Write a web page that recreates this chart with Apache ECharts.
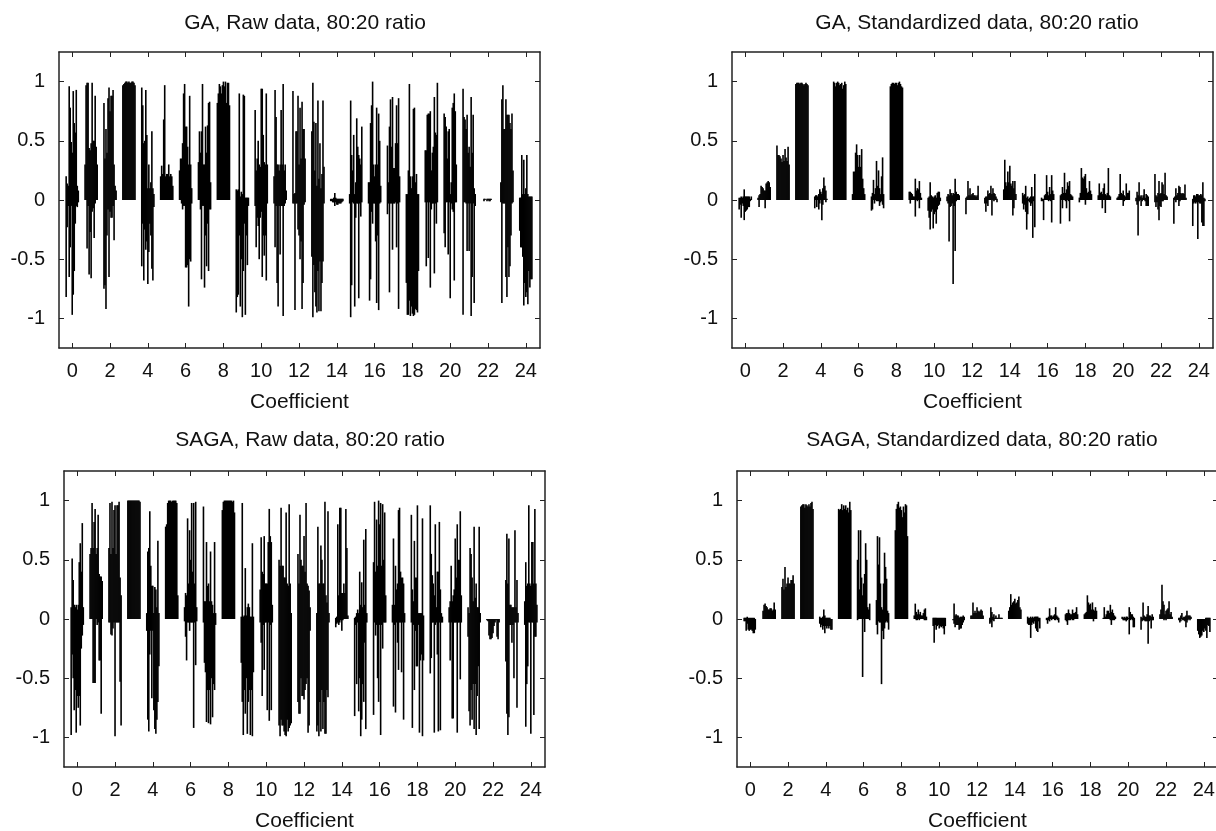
<!DOCTYPE html>
<html><head><meta charset="utf-8">
<style>html,body{margin:0;padding:0;background:#fff;overflow:hidden}#c{width:1216px;height:831px}</style>
<script src="https://cdn.jsdelivr.net/npm/echarts@6/dist/echarts.min.js"></script>
</head><body><div id="c"></div>
<script>
// One row per coefficient (0..24); each row holds 13 impulse tips across the coefficient's run group.
const xTicks=[0,2,4,6,8,10,12,14,16,18,20,22,24];
const yTicks=[-1,-0.5,0,0.5,1];
const gaRawPos=[
[20,14,12,96,78,49,40,92,65,57,93,12,8],[30,97,99,99,44,42,48,99,50,50,88,45,30],[82,35,60,40,86,95,75,88,88,93,30,12,8],
[97,98,99,100,100,99,100,99,99,100,100,99,97],[95,80,48,50,93,55,10,30,10,15,58,10,5],[20,29,22,68,97,20,22,22,30,20,22,20,12],
[25,35,35,48,90,98,62,62,45,30,88,30,10],[32,58,40,58,98,30,30,62,40,63,82,83,15],[82,90,98,96,90,97,100,96,100,82,99,99,80],
[9,8,9,90,3,7,5,89,88,2,2,2,2],[76,25,35,50,30,28,94,94,55,32,30,90,30],[20,93,70,30,30,25,30,76,30,98,25,30,8],
[92,5,6,58,58,88,30,78,35,83,60,60,35],[58,99,66,25,65,12,84,18,48,10,22,84,28],[1,1,1,2,6,2,1,1,1,1,1,1,1],
[5,84,38,25,55,5,15,69,45,38,35,30,62],[15,15,65,80,100,30,20,30,78,30,73,50,12],[46,15,62,85,45,87,27,27,48,80,48,86,20],
[5,5,25,98,20,10,20,77,78,15,22,5,5],[42,42,72,73,73,75,25,40,45,87,57,55,99],[73,70,62,35,58,60,5,15,78,82,90,75,30],
[94,70,68,60,72,40,45,28,87,40,72,10,5],[0,0,1,1,0,1,1,1,1,1,0,0,0],[15,85,97,60,60,85,72,72,72,65,60,73,25],[2,2,38,5,34,5,10,38,5,3,3,3,3]];
const gaRawNeg=[
[-82,-23,-5,-65,-40,-5,-97,-80,-60,-20,-5,-6,-2],[0,0,-41,-5,-63,-27,-66,-10,-7,-32,-3,0,0],[-75,-72,-92,-30,-8,-65,-10,-15,-15,-5,-34,0,0],
[],[-56,-20,-68,-25,-42,-35,-71,-44,-20,-30,-58,-68,-6],[],
[0,0,-3,-8,-5,-5,-57,-57,-55,-90,-50,-52,-3],[0,0,-8,-67,-5,-5,-74,-30,-56,-20,-60,-8,-8],[],
[-95,-82,-80,-30,-90,-50,-99,-60,-20,-97,-30,-55,-5],[-5,-40,-15,-22,-50,-15,-10,-65,-30,-47,-30,-68,-3],[-3,-40,-5,-70,-90,-5,-46,-5,-5,-98,-5,-3,0],
[-3,-3,-93,-3,-3,-25,-30,-50,-35,-92,-70,-4,-2],[-48,-99,-55,-78,-90,-95,-60,-94,-52,-94,-70,-52,-3],[-1,-1,-2,-2,-5,-2,-4,-4,-3,-3,-3,-2,-1],
[-3,-99,-72,-2,-3,-90,-15,-3,-3,-83,-3,-14,-2],[-3,-85,-67,-10,-20,-3,-3,-35,-87,-30,-93,-3,-2],[-12,-3,-78,-3,-3,-42,-3,-3,-2,-40,-3,-92,-2],
[-70,-97,-97,-85,-98,-90,-96,-98,-97,-92,-93,-95,-60],[-2,-56,-2,-49,-2,-74,-8,-3,-3,-62,-3,-20,-2],[-28,-40,-2,-2,-46,-2,-83,-3,-8,-10,-68,-2,-2],
[-97,-2,-2,-3,-43,-3,-43,-3,-98,-65,-3,-87,-5],[0,0,-1,0,0,-1,0,-1,-1,0,0,0,0],[-2,-87,-3,-3,-3,-65,-82,-40,-65,-56,-30,-3,-2],[-26,-40,-40,-48,-89,-70,-82,-78,-88,-60,-74,-67,-67]];
const gaStdPos=[
[2,2,3,2,3,9,3,3,3,3,3,1,3],[2,4,5,12,11,10,8,8,14,15,16,15,11],[46,38,38,37,35,32,38,33,43,36,33,45,30],
[98,99,99,99,98,99,99,98,97,98,99,98,97],[3,4,4,3,5,9,7,5,10,19,12,8,1],[100,99,96,99,100,99,97,98,99,94,97,100,98],
[5,24,24,40,47,38,28,38,28,43,18,10,5],[3,6,17,5,10,33,12,25,10,5,20,36,5],[96,98,99,99,98,99,99,97,99,100,98,96,95],
[7,7,6,5,3,3,18,8,10,9,16,6,2],[2,3,15,4,3,2,3,4,2,6,7,7,2],[3,5,4,9,6,4,6,5,18,7,5,5,4],
[2,3,16,4,10,4,5,6,4,4,3,4,12],[2,3,3,8,5,6,12,5,10,6,5,3,1],[9,34,15,12,24,15,29,14,12,16,10,16,5],
[6,4,5,12,2,3,1,2,3,11,3,3,22],[2,1,1,4,5,21,7,4,11,5,21,8,5],[4,5,11,6,23,6,9,15,12,16,5,4,3],
[2,6,27,19,18,20,22,10,6,7,16,8,5],[4,14,6,7,5,10,14,5,4,6,27,4,3],[2,3,5,22,6,5,8,4,3,14,6,6,8],
[2,7,4,15,3,4,2,4,9,2,5,4,3],[22,4,3,6,16,5,6,15,13,5,23,4,3],[2,3,10,4,6,12,11,6,5,6,5,13,2],[1,4,4,3,5,5,4,4,5,4,15,2,1]];
const gaStdNeg=[
[-8,-4,-15,-3,-5,-17,-10,-9,-8,-6,-6,-1,0],[0,-6,0,0,0,0,0,-7,0,0,0,0,0],[],
[],[-7,0,-6,0,-8,-3,0,-17,-4,0,0,-2,0],[],
[],[-9,-8,0,-3,0,-1,-1,-1,-5,-2,-1,-4,-7],[],
[0,-3,0,0,0,0,-14,0,-1,0,-7,0,0],[-9,-15,-25,-10,-8,-24,-12,-10,-20,-8,-5,-4,-1],[-1,-3,-35,-6,-5,-3,-71,-5,-43,-1,0,0,0],
[-12,0,0,0,0,0,0,0,0,0,0,0,0],[-3,-10,-3,-5,0,0,0,-13,0,-1,0,0,-2],[0,0,0,0,0,0,0,0,0,-13,-7,0,0],
[-3,-8,-4,-10,-25,-12,-1,-2,-5,-3,-32,-1,-23],[-1,-1,-17,0,0,0,0,-1,0,-1,-19,0,0],[-20,0,-7,0,0,-1,-7,0,-1,-18,0,0,0],
[-2,0,0,0,0,0,-4,0,0,0,0,0,0],[0,0,0,0,-7,0,0,-11,0,0,0,0,0],[0,0,0,0,0,0,-5,-1,0,0,0,0,0],
[-1,-4,-30,-1,0,-5,-1,0,0,-1,-5,-5,-5],[-2,-6,-2,-8,-17,-5,-6,-1,-1,0,0,0,0],[-20,0,-2,0,0,-5,-1,0,0,0,0,0,0],[-22,-3,-2,-3,-2,-33,-2,-3,-3,-19,-22,-22,-1]];
const sagaRawPos=[
[10,51,33,12,10,12,8,12,48,64,40,81,10],[55,60,98,60,82,93,55,60,88,38,36,36,32],[60,98,55,99,60,92,96,55,96,96,99,35,20],
[100,100,100,100,100,100,100,100,100,100,100,100,99],[5,57,60,91,45,28,28,5,27,25,10,66,5],[78,80,98,100,100,100,99,100,100,100,100,98,20],
[10,22,20,85,30,75,50,98,40,98,30,99,10],[95,15,15,65,28,30,15,57,15,12,5,65,5],[92,99,100,100,100,100,100,100,100,100,99,100,90],
[2,98,2,3,43,3,10,13,10,2,2,64,2],[25,69,40,38,70,30,30,30,65,93,70,65,12],[50,45,94,45,45,35,35,90,30,28,97,30,5],
[55,30,88,50,45,45,70,40,98,30,28,24,10],[5,78,30,30,62,50,30,30,99,20,14,91,5],[1,2,80,20,94,94,22,22,30,22,93,60,3],
[1,2,5,8,5,40,12,31,10,67,12,76,5],[48,99,40,84,45,100,80,98,45,97,50,90,20],[12,68,12,45,25,30,92,94,40,35,35,30,5],
[88,25,15,66,35,35,96,5,5,5,5,85,3],[96,55,37,30,20,80,10,40,40,82,25,5,2],[10,15,45,15,20,25,68,35,80,50,50,91,20],
[10,5,60,55,35,15,78,18,30,10,10,78,5],[],[33,72,30,68,12,12,10,10,10,75,10,33,5],[15,48,28,30,96,30,28,65,65,30,93,30,12]];
const sagaRawNeg=[
[-98,-30,-50,-77,-60,-96,-65,-75,-65,-90,-25,-14,-5],[0,0,0,-54,-54,-54,0,-5,-3,-35,-35,-80,0],[-3,-3,-13,-14,-8,-3,-99,-3,-3,-3,-3,-53,-90],
[],[-10,-85,-95,-30,-10,-67,-10,-77,-93,-97,-85,-70,-40],[],
[-2,-15,-35,-3,-3,-10,-3,-3,-3,-92,-3,-39,-2],[-3,-37,-45,-87,-60,-88,-60,-89,-50,-83,-55,-60,-5],[],
[-37,-70,-98,-60,-80,-50,-97,-70,-60,-98,-60,-99,-45],[-3,-20,-65,-5,-43,-3,-3,-77,-3,-86,-5,-77,-3],[-90,-99,-85,-90,-90,-95,-98,-99,-85,-95,-92,-90,-88],
[-70,-80,-80,-50,-65,-65,-68,-60,-55,-50,-96,-90,-10],[-95,-90,-99,-70,-95,-60,-93,-70,-97,-97,-60,-66,-3],[-7,-4,-3,-5,-3,-1,-10,-1,0,0,0,0,0],
[-82,-5,-55,-3,-78,-50,-99,-85,-55,-70,-20,-93,-3],[-81,-3,-14,-5,-50,-70,-5,-98,-5,-25,-3,-3,-3],[-3,-74,-5,-79,-3,-20,-43,-3,-3,-45,-3,-85,-3],
[-3,-92,-5,-60,-10,-40,-40,-5,-96,-35,-30,-99,-35],[-46,-33,-3,-3,-96,-5,-3,-30,-95,-3,-94,-3,-3],[-3,-35,-3,-84,-84,-3,-3,-3,-96,-3,-3,-51,-3],
[-15,-78,-90,-60,-85,-55,-93,-55,-98,-65,-40,-93,-3],[-1,-2,-14,-17,-17,-16,-12,-6,-3,-1,-15,-17,-3],[-36,-80,-98,-83,-5,-5,-20,-5,-50,-3,-3,-75,-3],[-5,-91,-55,-40,-3,-3,-97,-3,-3,-81,-15,-15,-3]];
const sagaStdPos=[
[1,1,1,2,1,1,1,1,1,1,1,0,0],[7,12,13,11,10,8,8,9,9,7,8,14,8],[27,34,25,44,27,30,35,30,30,33,33,37,30],
[95,96,97,97,94,97,96,95,97,95,98,99,93],[2,1,1,2,8,3,1,1,1,1,1,0,0],[93,92,93,97,92,96,93,96,92,94,90,99,92],
[50,75,25,75,35,20,30,38,64,50,10,8,13],[16,70,46,69,30,10,8,30,56,44,34,7,5],[75,93,97,99,94,95,92,86,95,90,97,96,70],
[3,13,6,4,8,4,6,3,3,5,8,9,2],[1,1,1,1,1,1,1,1,1,1,1,1,1],[0,0,13,3,4,3,3,1,2,2,2,3,2],
[3,3,14,5,7,5,10,7,6,7,8,7,3],[1,10,6,2,4,1,3,1,1,4,1,1,1],[7,10,21,12,14,15,17,13,14,16,19,10,8],
[2,1,1,2,1,2,1,2,2,2,2,1,1],[1,1,2,9,3,3,2,3,4,10,3,2,1],[4,5,5,8,5,4,4,8,5,5,6,10,4],
[4,5,6,20,14,12,13,8,14,8,7,10,7],[1,10,2,4,7,7,5,12,6,8,5,3,2],[2,1,2,1,2,2,1,10,6,4,4,2,1],
[2,1,14,3,2,2,4,11,3,3,2,4,2],[4,8,29,15,12,4,7,8,9,15,4,6,2],[1,1,3,5,1,2,2,3,7,3,3,3,2],[0,0,0,0,0,0,0,0,1,1,1,1,1]];
const sagaStdNeg=[
[-2,-2,-10,-4,-9,-10,-9,-9,-10,-12,-12,-9,0],[],[],
[],[-4,-7,-5,-9,-6,-12,-6,-8,-6,-8,-6,-9,-9],[],
[-1,0,0,0,0,-49,0,-11,0,0,0,0,-1],[-5,-13,-2,-3,-3,-55,-10,-17,-8,-3,-2,-3,-9],[],
[0,0,-1,-1,0,-1,0,0,0,0,-1,-1,-1],[-6,-20,-5,-9,-6,-5,-8,-6,-7,-6,-8,-13,-6],[0,-1,-4,-7,-5,-5,-5,-9,-8,-8,-5,-3,-1],
[],[-4,-3,-7,-1,-2,0,0,0,0,0,0,0,0],[],
[-4,-5,-5,-16,-5,-3,-4,-2,-8,-10,-11,-2,-8],[-1,-4,-1,-2,0,-1,0,0,-1,-1,0,-1,-3],[-1,-2,-5,-1,-1,-1,0,-1,-1,0,0,0,0],
[0,0,0,0,0,0,0,0,0,-2,0,0,0],[0,0,0,0,0,0,0,-1,-5,-1,-1,-1,0],[0,-1,-1,-1,-2,-1,0,-13,-1,0,-1,-7,-7],
[-9,-2,-1,-1,-2,-2,-2,-21,-2,-1,-8,-1,-1],[0,0,0,0,-1,0,-1,0,0,0,0,0,0],[-1,-3,-2,0,-1,-1,-2,-7,-3,-1,0,-1,0],[-10,-13,-16,-15,-14,-10,-11,-8,-10,-16,-5,-6,-11]];

const panels=[
 {title:'GA, Raw data, 80:20 ratio',pos:gaRawPos,neg:gaRawNeg,left:59,top:52,cx:300,ty:8},
 {title:'GA, Standardized data, 80:20 ratio',pos:gaStdPos,neg:gaStdNeg,left:732,top:52,cx:972,ty:8},
 {title:'SAGA, Raw data, 80:20 ratio',pos:sagaRawPos,neg:sagaRawNeg,left:64,top:471,cx:305,ty:425},
 {title:'SAGA, Standardized data, 80:20 ratio',pos:sagaStdPos,neg:sagaStdNeg,left:737,top:471,cx:977,ty:425}];
const W=481,H=296,FONT='"Liberation Sans",Arial,sans-serif',INK='#111';
const impulses=(pos,neg)=>{const out=[];
 [pos,neg].forEach(rows=>rows.forEach((row,c)=>row.forEach((v,i)=>{
  if(v!==0)out.push([c+(i-6)*0.0535,v/100]);})));
 return out;};
const opt={animation:false,backgroundColor:'#fff',title:[],grid:[],xAxis:[],yAxis:[],series:[]};
panels.forEach((p,k)=>{
 opt.grid.push({left:p.left,top:p.top,width:W,height:H,containLabel:false,outerBoundsMode:'none'});
 opt.title.push({text:p.title,left:p.cx,top:p.ty,textAlign:'center',textStyle:{fontFamily:FONT,fontSize:21,fontWeight:'normal',color:INK}});
 const line={show:true,onZero:false,lineStyle:{color:'#222',width:1.5}};
 const xc=(pos,show)=>({type:'value',gridIndex:k,position:pos,min:-0.7,max:24.75,splitLine:{show:false},axisLine:line,
   axisTick:{show:true,inside:true,length:5,customValues:xTicks,lineStyle:{color:'#222',width:1}},
   axisLabel:{show,customValues:xTicks,margin:13,fontFamily:FONT,fontSize:20,color:INK},
   name:show?'Coefficient':'',nameLocation:'middle',nameGap:44,nameTextStyle:{fontFamily:FONT,fontSize:21,color:INK}});
 const yc=(pos,show)=>({type:'value',gridIndex:k,position:pos,min:-1.25,max:1.25,splitLine:{show:false},axisLine:line,
   axisTick:{show:true,inside:true,length:5,customValues:yTicks,lineStyle:{color:'#222',width:1}},
   axisLabel:{show,customValues:yTicks,margin:14,fontFamily:FONT,fontSize:20,color:INK}});
 const xi=opt.xAxis.length,yi=opt.yAxis.length;
 opt.xAxis.push(xc('bottom',true),xc('top',false));
 opt.yAxis.push(yc('left',true),yc('right',false));
 opt.series.push({type:'bar',name:p.title,xAxisIndex:xi,yAxisIndex:yi,barWidth:1.6,data:impulses(p.pos,p.neg),
   itemStyle:{color:'#000'},silent:true});
});
echarts.init(document.getElementById('c'),null,{renderer:'canvas'}).setOption(opt);
</script></body></html>
